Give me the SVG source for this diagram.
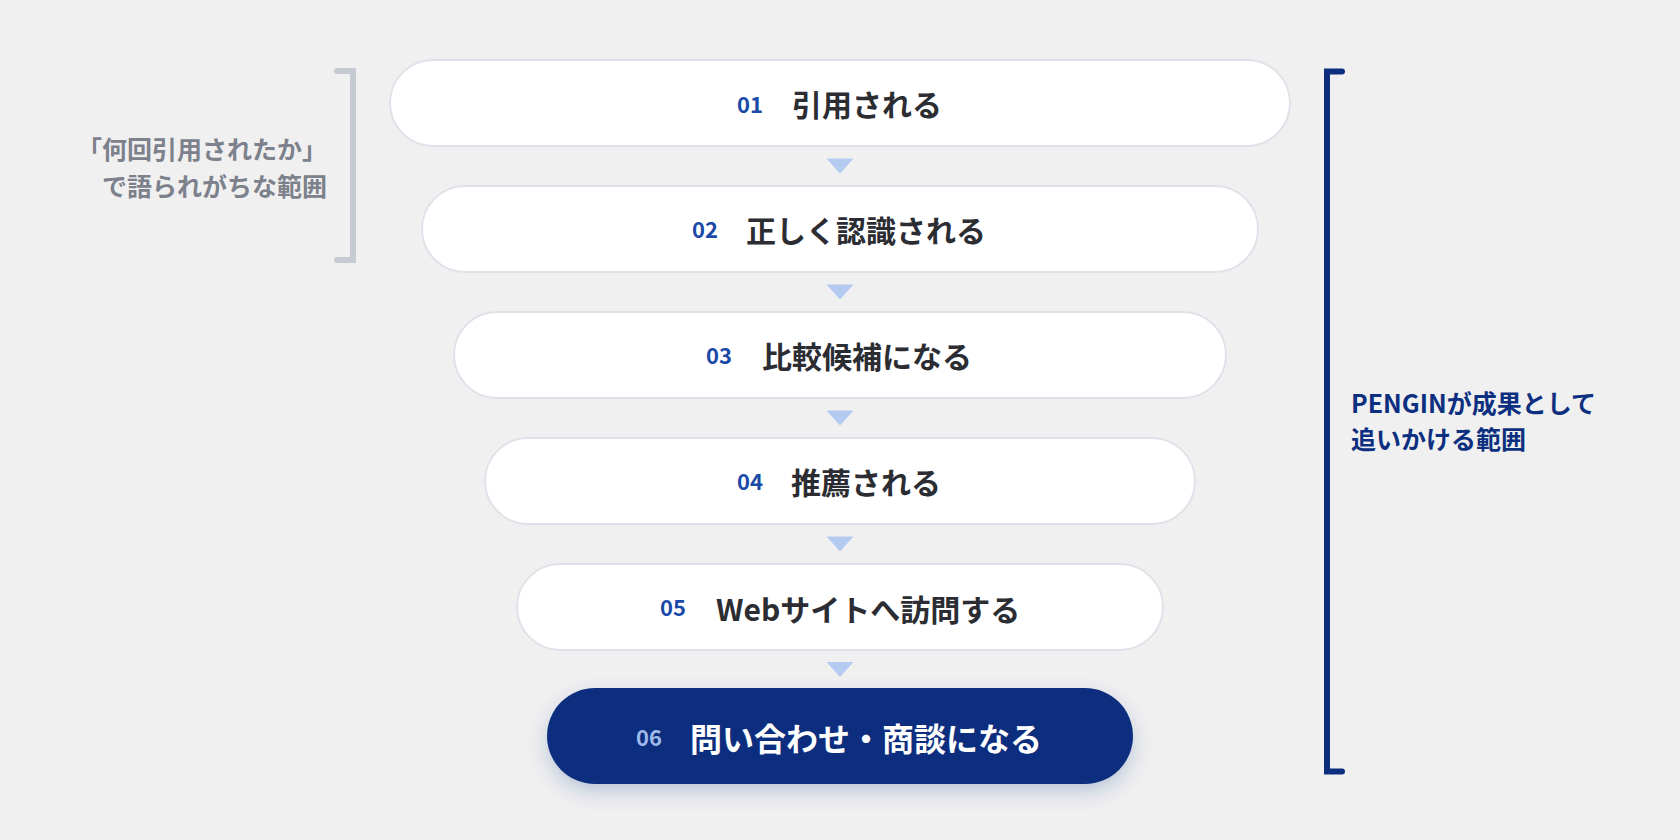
<svg xmlns="http://www.w3.org/2000/svg" width="1680" height="840" viewBox="0 0 1680 840">
  <style>
    .box { fill: #ffffff; stroke: #dfe3e9; stroke-width: 2; }
    .num { font-family: "Noto Sans CJK JP", "Noto Sans", sans-serif; font-weight: 700; font-size: 22px; fill: #1a4aa8; }
    .lbl { font-family: "Noto Sans CJK JP", "Noto Sans", sans-serif; font-weight: 700; font-size: 30px; fill: #2b2d33; }
    .arrow { fill: #b3cbf0; }
    .side { font-family: "Noto Sans CJK JP", "Noto Sans", sans-serif; font-weight: 700; font-size: 25px; }
  </style>
  <defs>
    <filter id="shadow" x="-20%" y="-40%" width="140%" height="200%">
      <feDropShadow dx="0" dy="8" stdDeviation="10" flood-color="#0b2e7e" flood-opacity="0.22"/>
    </filter>
  </defs>
  <rect x="0" y="0" width="1680" height="840" fill="#f0f0f1"/>

  <g id="connectors">
    <polygon class="arrow" points="826.5,158.5 853.5,158.5 840,173.5"/>
    <polygon class="arrow" points="826.5,284.5 853.5,284.5 840,299.5"/>
    <polygon class="arrow" points="826.5,410.5 853.5,410.5 840,425.5"/>
    <polygon class="arrow" points="826.5,536.5 853.5,536.5 840,551.5"/>
    <polygon class="arrow" points="826.5,662 853.5,662 840,677"/>
  </g>

  <g id="node-01">
    <rect class="box" x="390" y="60" width="900" height="86" rx="43"/>
    <text class="num" x="737" y="112.5">01</text>
    <text class="lbl" x="792" y="116">引用される</text>
  </g>
  <g id="node-02">
    <rect class="box" x="422" y="186" width="836" height="86" rx="43"/>
    <text class="num" x="692" y="238">02</text>
    <text class="lbl" x="746" y="242">正しく認識される</text>
  </g>
  <g id="node-03">
    <rect class="box" x="454" y="312" width="772" height="86" rx="43"/>
    <text class="num" x="706" y="364">03</text>
    <text class="lbl" x="762" y="368">比較候補になる</text>
  </g>
  <g id="node-04">
    <rect class="box" x="485" y="438" width="710" height="86" rx="43"/>
    <text class="num" x="737" y="490">04</text>
    <text class="lbl" x="791" y="494">推薦される</text>
  </g>
  <g id="node-05">
    <rect class="box" x="517" y="564" width="646" height="86" rx="43"/>
    <text class="num" x="660" y="616">05</text>
    <text class="lbl" x="716" y="620.5">Webサイトへ訪問する</text>
  </g>
  <g id="node-06">
    <rect x="547" y="688" width="586" height="96" rx="48" fill="#0b2e7e" filter="url(#shadow)"/>
    <text class="num" x="636" y="746" style="fill:#9dbaea">06</text>
    <text class="lbl" x="690" y="751" style="fill:#ffffff;font-size:32px">問い合わせ・商談になる</text>
  </g>

  <g id="left-range">
    <path d="M337 71 H353 V260 H337" fill="none" stroke="#c5cad3" stroke-width="6" stroke-linecap="round" stroke-linejoin="miter"/>
    <text class="side" x="327" y="158.5" text-anchor="end" fill="#7c818b">「何回引用されたか」</text>
    <text class="side" x="327" y="195.5" text-anchor="end" fill="#7c818b">で語られがちな範囲</text>
  </g>

  <g id="right-range">
    <path d="M1342 71.5 H1327 V771.5 H1342" fill="none" stroke="#0b2e7e" stroke-width="6" stroke-linecap="round" stroke-linejoin="miter"/>
    <text class="side" x="1351" y="413" fill="#0d2f80">PENGINが成果として</text>
    <text class="side" x="1351" y="449" fill="#0d2f80">追いかける範囲</text>
  </g>
</svg>
